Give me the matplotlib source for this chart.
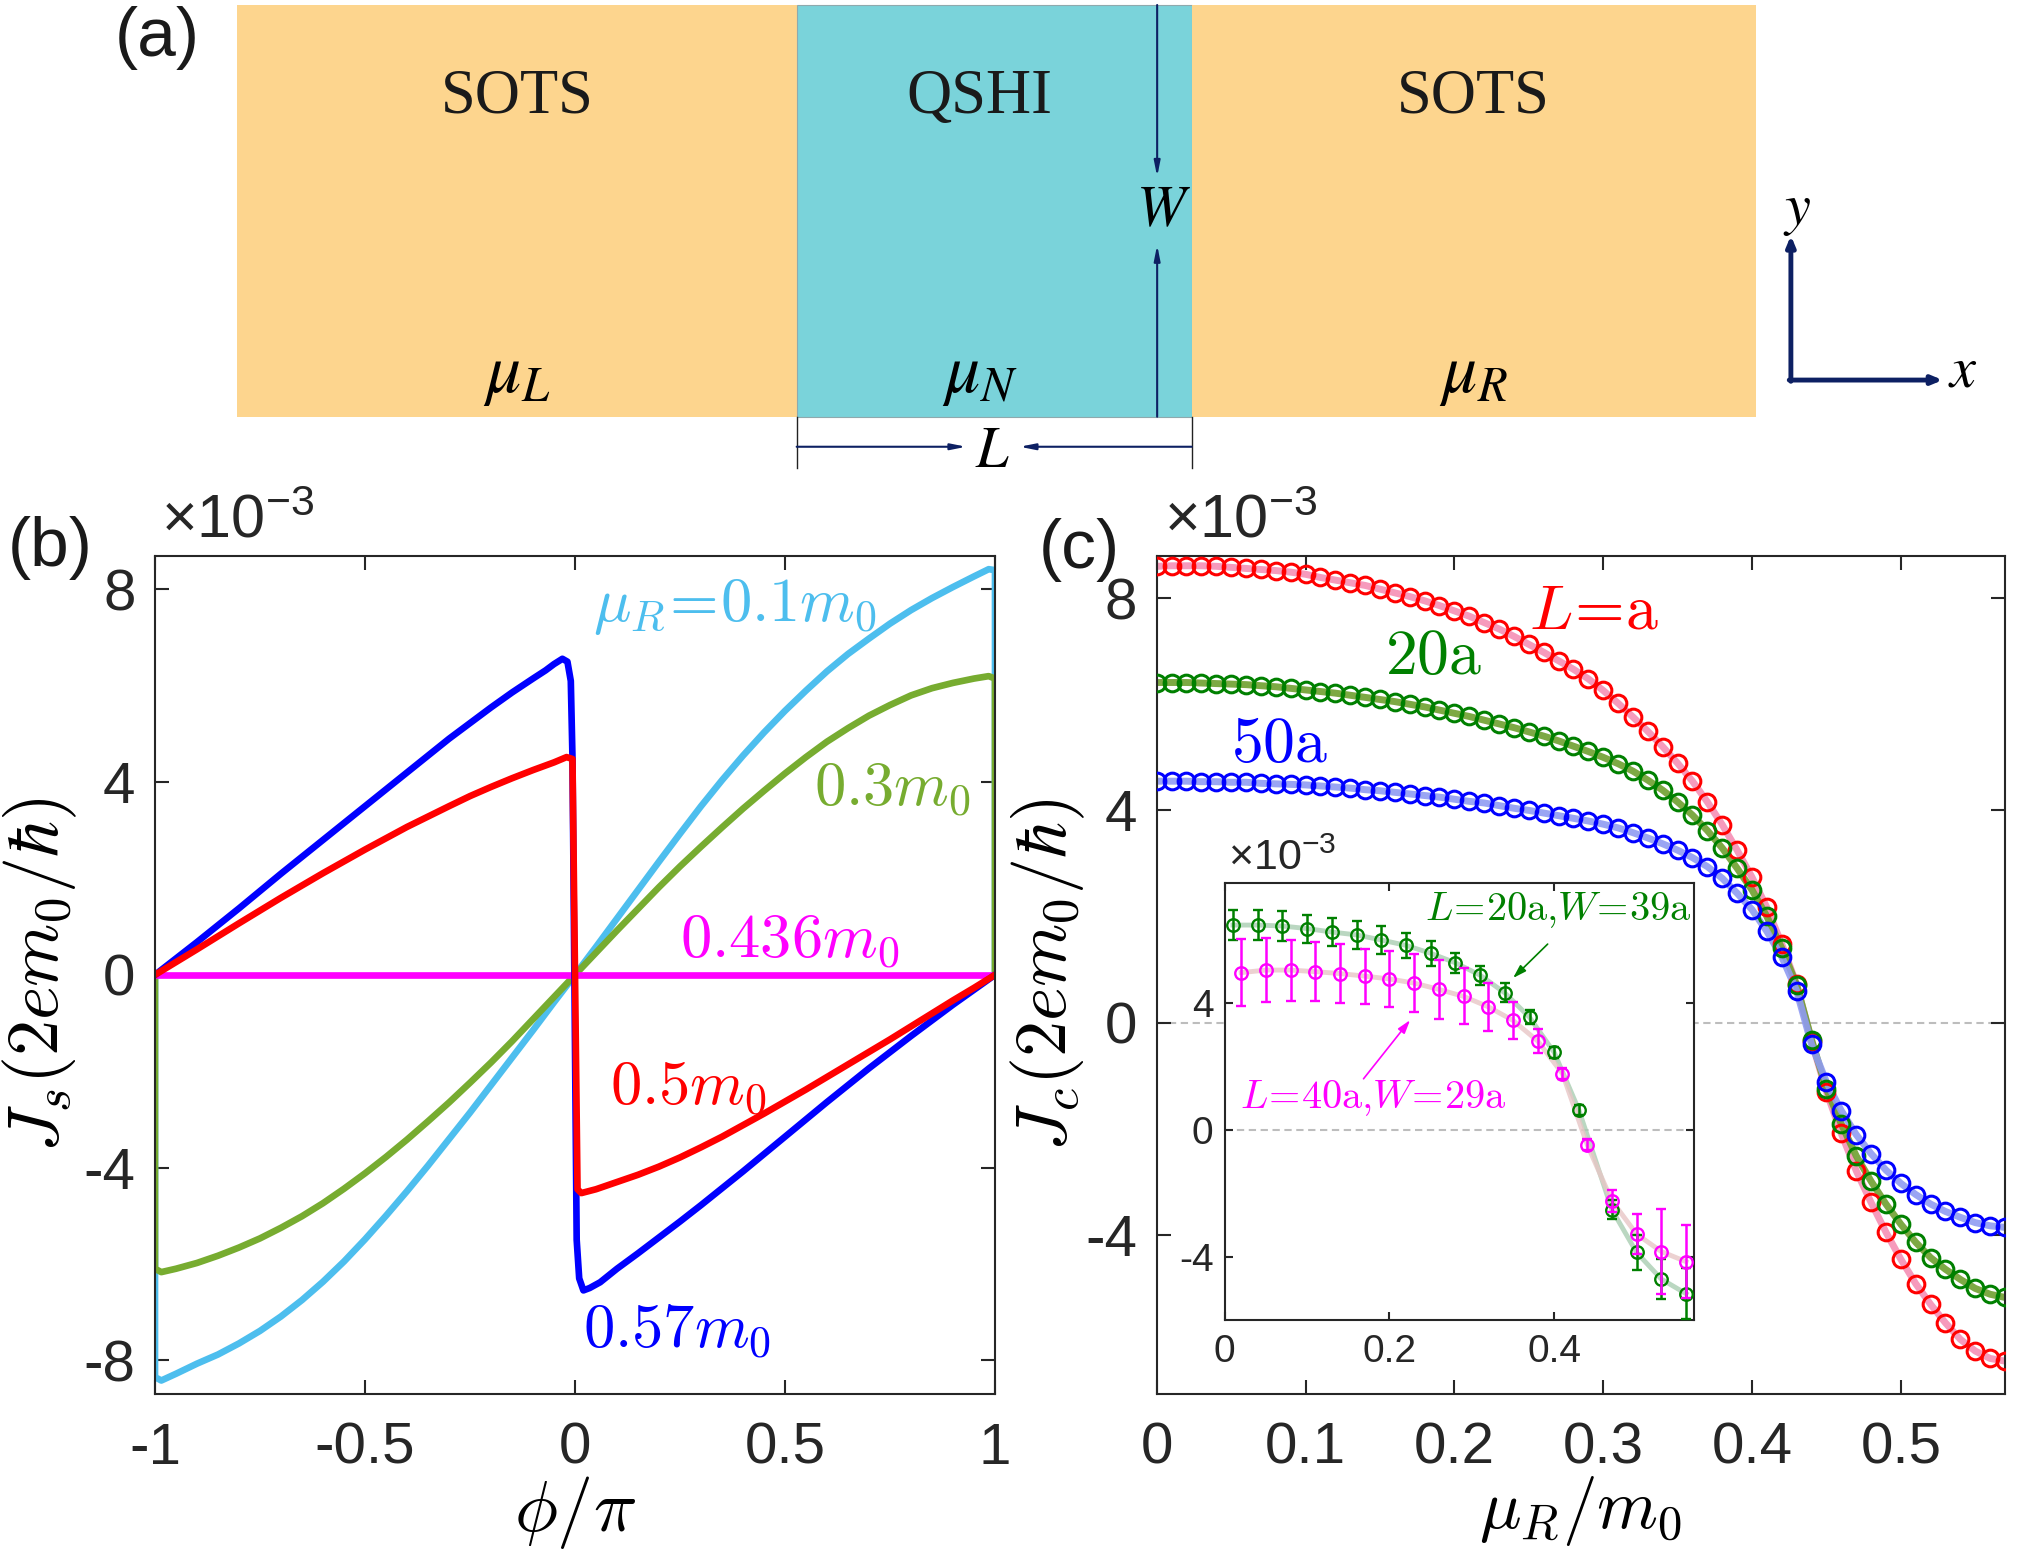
import numpy as np
import matplotlib.pyplot as plt
from matplotlib.patches import Rectangle

plt.rcParams['font.family'] = 'Liberation Sans'
plt.rcParams['mathtext.fontset'] = 'cm'
plt.rcParams['mathtext.rm'] = 'Liberation Sans'
plt.rcParams['mathtext.it'] = 'Liberation Sans:italic'
plt.rcParams['mathtext.bf'] = 'Liberation Sans:bold'

# ---- panel (a): device sketch ----
region_names = ['SOTS', 'QSHI', 'SOTS']
region_mu = [r'$\mu_L$', r'$\mu_N$', r'$\mu_R$']
region_widths = [1.36, 0.96, 1.37]
region_colors = ['#FDD58E', '#7AD3DA', '#FDD58E']

# ---- panel (b): J_s vs phi/pi (units 1e-3) ----
phi_01 = [-1, -1, -0.985, -0.95, -0.9, -0.85, -0.8, -0.75, -0.7, -0.65, -0.6, -0.55,
          -0.5, -0.45, -0.4, -0.35, -0.3, -0.25, -0.2, -0.15, -0.1, -0.05, 0,
          0.05, 0.1, 0.15, 0.2, 0.25, 0.3, 0.35, 0.4, 0.45, 0.5, 0.55, 0.6, 0.65,
          0.7, 0.75, 0.8, 0.85, 0.9, 0.95, 0.985, 1, 1]
js_01 = [0, -8.35, -8.42, -8.28, -8.07, -7.88, -7.65, -7.39, -7.09, -6.75, -6.37, -5.95,
         -5.49, -5.0, -4.49, -3.96, -3.41, -2.86, -2.29, -1.72, -1.15, -0.57, 0,
         0.58, 1.17, 1.76, 2.35, 2.93, 3.5, 4.04, 4.55, 5.03, 5.48, 5.9, 6.3, 6.66,
         6.98, 7.29, 7.57, 7.82, 8.05, 8.27, 8.42, 8.4, 0]
phi_03 = [-1, -1, -0.985, -0.95, -0.9, -0.85, -0.8, -0.75, -0.7, -0.65, -0.6, -0.55,
          -0.5, -0.45, -0.4, -0.35, -0.3, -0.25, -0.2, -0.15, -0.1, -0.05, 0,
          0.05, 0.1, 0.15, 0.2, 0.25, 0.3, 0.35, 0.4, 0.45, 0.5, 0.55, 0.6, 0.65,
          0.7, 0.75, 0.8, 0.85, 0.9, 0.95, 0.985, 1, 1]
js_03 = [0, -6.1, -6.17, -6.1, -5.98, -5.83, -5.66, -5.47, -5.25, -5.01, -4.74, -4.44,
         -4.12, -3.78, -3.42, -3.04, -2.65, -2.24, -1.82, -1.38, -0.92, -0.46, 0,
         0.46, 0.92, 1.37, 1.82, 2.25, 2.66, 3.06, 3.45, 3.82, 4.18, 4.52, 4.84, 5.12,
         5.38, 5.6, 5.8, 5.95, 6.06, 6.15, 6.2, 6.15, 0]
phi_0436 = [-1, 1]
js_0436 = [0, 0]
phi_05 = [-1, -0.9, -0.8, -0.7, -0.6, -0.5, -0.4, -0.3, -0.25, -0.2, -0.15, -0.1,
          -0.05, -0.02, -0.006, 0.006, 0.015, 0.05, 0.1, 0.15, 0.2, 0.25, 0.3, 0.35,
          0.4, 0.45, 0.5, 0.55, 0.6, 0.65, 0.7, 0.75, 0.8, 0.85, 0.9, 0.95, 1]
js_05 = [0, 0.53, 1.07, 1.6, 2.11, 2.6, 3.07, 3.5, 3.71, 3.9, 4.08, 4.25,
         4.41, 4.52, 4.48, -4.45, -4.53, -4.45, -4.3, -4.15, -3.98, -3.79, -3.58, -3.36,
         -3.12, -2.88, -2.63, -2.38, -2.12, -1.86, -1.6, -1.34, -1.07, -0.8, -0.53, -0.27, 0]
phi_057 = [-1, -0.9, -0.8, -0.7, -0.6, -0.5, -0.4, -0.3, -0.2, -0.15, -0.1, -0.07,
           -0.05, -0.03, -0.018, -0.01, -0.006, 0.004, 0.01, 0.02, 0.035, 0.06, 0.1,
           0.15, 0.2, 0.25, 0.3, 0.4, 0.5, 0.6, 0.7, 0.8, 0.9, 1]
js_057 = [0, 0.68, 1.38, 2.1, 2.8, 3.5, 4.2, 4.9, 5.55, 5.86, 6.15, 6.32,
          6.45, 6.56, 6.5, 6.1, 4.5, -5.5, -6.3, -6.55, -6.5, -6.38, -6.1,
          -5.78, -5.45, -5.12, -4.78, -4.08, -3.36, -2.64, -1.94, -1.27, -0.62, 0]

# ---- panel (c): J_c vs mu_R/m0 (units 1e-3) ----
mu_r = [0.00, 0.01, 0.02, 0.03, 0.04, 0.05, 0.06, 0.07, 0.08, 0.09,
        0.10, 0.11, 0.12, 0.13, 0.14, 0.15, 0.16, 0.17, 0.18, 0.19,
        0.20, 0.21, 0.22, 0.23, 0.24, 0.25, 0.26, 0.27, 0.28, 0.29,
        0.30, 0.31, 0.32, 0.33, 0.34, 0.35, 0.36, 0.37, 0.38, 0.39,
        0.40, 0.41, 0.42, 0.43, 0.44, 0.45, 0.46, 0.47, 0.48, 0.49,
        0.50, 0.51, 0.52, 0.53, 0.54, 0.55, 0.56, 0.57]
jc_L1 = [8.60, 8.61, 8.61, 8.61, 8.60, 8.58, 8.56, 8.54, 8.52, 8.49,
         8.45, 8.39, 8.34, 8.29, 8.24, 8.17, 8.10, 8.03, 7.95, 7.86,
         7.76, 7.66, 7.54, 7.42, 7.28, 7.13, 6.98, 6.82, 6.66, 6.48,
         6.26, 6.02, 5.76, 5.49, 5.20, 4.89, 4.55, 4.16, 3.73, 3.25,
         2.74, 2.17, 1.48, 0.72, -0.35, -1.30, -2.09, -2.79, -3.39, -3.95,
         -4.46, -4.92, -5.31, -5.66, -5.97, -6.19, -6.33, -6.38]
jc_L20 = [6.41, 6.41, 6.41, 6.40, 6.39, 6.38, 6.37, 6.35, 6.33, 6.30,
          6.27, 6.24, 6.21, 6.17, 6.13, 6.09, 6.05, 6.00, 5.95, 5.89,
          5.83, 5.77, 5.70, 5.63, 5.56, 5.48, 5.40, 5.31, 5.21, 5.11,
          5.00, 4.88, 4.74, 4.57, 4.38, 4.16, 3.91, 3.62, 3.29, 2.91,
          2.50, 2.00, 1.40, 0.71, -0.32, -1.25, -1.91, -2.51, -2.99, -3.42,
          -3.80, -4.14, -4.43, -4.65, -4.84, -5.01, -5.12, -5.18]
jc_L50 = [4.55, 4.55, 4.55, 4.54, 4.54, 4.53, 4.53, 4.51, 4.50, 4.49,
          4.48, 4.46, 4.44, 4.42, 4.39, 4.37, 4.34, 4.31, 4.28, 4.25,
          4.21, 4.17, 4.14, 4.09, 4.04, 4.00, 3.95, 3.90, 3.85, 3.80,
          3.74, 3.67, 3.58, 3.48, 3.37, 3.25, 3.11, 2.94, 2.72, 2.44,
          2.13, 1.72, 1.24, 0.60, -0.41, -1.12, -1.66, -2.11, -2.47, -2.78,
          -3.03, -3.24, -3.42, -3.56, -3.67, -3.77, -3.83, -3.86]

# inset: L=20a, W=39a and L=40a, W=29a with error bars
ins_mu_g = [0.01, 0.04, 0.07, 0.10, 0.13, 0.16, 0.19, 0.22, 0.25, 0.28,
            0.31, 0.34, 0.37, 0.40, 0.43, 0.47, 0.50, 0.53, 0.56]
ins_jc_g = [6.46, 6.46, 6.43, 6.35, 6.24, 6.15, 5.99, 5.82, 5.57, 5.27,
            4.88, 4.32, 3.55, 2.44, 0.62, -2.52, -3.87, -4.71, -5.17]
ins_err_g = [0.46, 0.46, 0.47, 0.44, 0.44, 0.44, 0.43, 0.40, 0.39, 0.32,
             0.30, 0.30, 0.22, 0.17, 0.15, 0.30, 0.54, 0.64, 0.80]
ins_mu_m = [0.02, 0.05, 0.08, 0.11, 0.14, 0.17, 0.20, 0.23, 0.26, 0.29,
            0.32, 0.35, 0.38, 0.41, 0.44, 0.47, 0.50, 0.53, 0.56]
ins_jc_m = [4.96, 5.04, 5.04, 4.99, 4.93, 4.85, 4.76, 4.63, 4.43, 4.21,
            3.88, 3.45, 2.80, 1.77, -0.47, -2.24, -3.29, -3.84, -4.16]
ins_err_m = [1.06, 1.02, 0.96, 0.93, 0.92, 0.87, 0.88, 0.91, 0.92, 0.88,
             0.75, 0.58, 0.37, 0.17, 0.17, 0.35, 0.62, 1.33, 1.16]

W, H = 2017, 1549
navy = '#0D2063'
axcol = '#262626'


def fbox(x0, y0, x1, y1):
    # pixel box (top-left origin) -> figure fraction rect
    return [x0 / W, 1 - y1 / H, (x1 - x0) / W, (y1 - y0) / H]


def style_axes(ax, size, length=10, padx=20, pady=14):
    for s in ax.spines.values():
        s.set_linewidth(1.5)
        s.set_color(axcol)
    ax.tick_params(direction='in', length=length, width=1.5, top=True, right=True,
                   labelsize=size, colors=axcol)
    ax.tick_params(axis='x', pad=padx)
    ax.tick_params(axis='y', pad=pady)


fig = plt.figure(figsize=(W / 100, H / 100), dpi=100)

# ================= (a) =================
ax_a = fig.add_axes(fbox(237, 5, 1755.5, 416.7))
ax_a.set_xlim(0, sum(region_widths))
ax_a.set_ylim(0, 1)
ax_a.axis('off')
edges = np.concatenate([[0], np.cumsum(region_widths)])
for i, name in enumerate(region_names):
    x0, w = edges[i], region_widths[i]
    ec = '#8FA9AD' if name == 'QSHI' else 'none'
    ax_a.add_patch(Rectangle((x0, 0), w, 1, fc=region_colors[i], ec=ec, lw=0.8,
                             clip_on=False))
    dx = -0.035 if name == 'QSHI' else 0
    ax_a.text(x0 + w / 2 + dx, 0.775, name, fontsize=45, family='Liberation Serif',
              ha='center', va='center', color='#1a1a1a')
    ax_a.text(x0 + w / 2 + dx, 0.10, region_mu[i], fontsize=50, math_fontfamily='stix',
              ha='center', va='center', color='black')

qs_l, qs_r = edges[1], edges[2]
xw = qs_r - 0.084
arr = dict(arrowstyle='-|>,head_length=0.9,head_width=0.18', color=navy, lw=1.5,
           shrinkA=0, shrinkB=0)
ax_a.annotate('', xy=(xw, 0.583), xytext=(xw, 1.0), arrowprops=arr)
ax_a.annotate('', xy=(xw, 0.417), xytext=(xw, 0.0), arrowprops=arr)
ax_a.text(xw + 0.015, 0.5, r'$W$', fontsize=42, math_fontfamily='stix',
          ha='center', va='center')

# L dimension
for xe in (qs_l, qs_r):
    ax_a.plot([xe, xe], [0, -0.125], color='#222222', lw=1.0, clip_on=False)
ax_a.annotate('', xy=(1.772, -0.073), xytext=(qs_l, -0.073), arrowprops=arr,
              annotation_clip=False)
ax_a.annotate('', xy=(1.902, -0.073), xytext=(qs_r, -0.073), arrowprops=arr,
              annotation_clip=False)
ax_a.text(1.837, -0.085, r'$L$', fontsize=42, math_fontfamily='stix',
          ha='center', va='center')

# coordinate axes
arr2 = dict(arrowstyle='-|>,head_length=0.6,head_width=0.25', color=navy, lw=3.5,
            shrinkA=0, shrinkB=0)
ax_a.annotate('', xy=(3.776, 0.44), xytext=(3.776, 0.086), arrowprops=arr2,
              annotation_clip=False)
ax_a.annotate('', xy=(4.145, 0.089), xytext=(3.772, 0.089), arrowprops=arr2,
              annotation_clip=False)
ax_a.text(3.792, 0.50, r'$y$', fontsize=42, math_fontfamily='stix',
          ha='center', va='center')
ax_a.text(4.195, 0.11, r'$x$', fontsize=42, math_fontfamily='stix',
          ha='center', va='center')

# ================= (b) =================
ax_b = fig.add_axes(fbox(155, 555.7, 995, 1394))
lw_b = 4.8
ax_b.plot(phi_01, js_01, color='#4DBEEE', lw=lw_b, solid_joinstyle='round')
ax_b.plot(phi_03, js_03, color='#77AC30', lw=lw_b, solid_joinstyle='round')
ax_b.plot(phi_0436, js_0436, color='#FF00FF', lw=lw_b)
ax_b.plot(phi_057, js_057, color='#0000FF', lw=lw_b, solid_joinstyle='round')
ax_b.plot(phi_05, js_05, color='#FF0000', lw=lw_b, solid_joinstyle='round')
ax_b.set_xlim(-1, 1)
ax_b.set_ylim(-8.7, 8.7)
ax_b.set_xticks([-1, -0.5, 0, 0.5, 1])
ax_b.set_xticklabels(['-1', '-0.5', '0', '0.5', '1'])
ax_b.set_yticks([-8, -4, 0, 4, 8])
ax_b.set_yticklabels(['-8', '-4', '0', '4', '8'])
style_axes(ax_b, 42)
ax_b.set_xlabel(r'$\phi/\pi$', fontsize=52)
ax_b.set_ylabel(r'$J_s(2em_0/\hbar)$', fontsize=52)
ax_b.xaxis.set_label_coords(0.5, -0.095)
ax_b.yaxis.set_label_coords(-0.09, 0.5)

lab = dict(fontsize=45, ha='left', va='baseline')
ax_b.text(0.043, 7.35, r'$\mu_R\!=\!0.1m_0$', color='#4DBEEE', **lab)
ax_b.text(0.57, 3.52, r'$0.3m_0$', color='#77AC30', **lab)
ax_b.text(0.249, 0.37, r'$0.436m_0$', color='#FF00FF', **lab)
ax_b.text(0.0825, -2.67, r'$0.5m_0$', color='#FF0000', **lab)
ax_b.text(0.019, -7.72, r'$0.57m_0$', color='#0000FF', **lab)

# ================= (c) =================
ax_c = fig.add_axes(fbox(1156.7, 555.7, 2005, 1394))
ax_c.axhline(0, color='#BDBDBD', lw=1.5, dashes=(3.5, 2.2), zorder=0)
series = [(jc_L1, '#FF0000', '#F58FB5'),
          (jc_L20, '#008000', '#6FA030'),
          (jc_L50, '#0000FF', '#8F9BF2')]
for vals, mc, bc in series:
    ax_c.plot(mu_r, vals, color=bc, lw=5.0, alpha=0.9, zorder=2)
    ax_c.plot(mu_r, vals, ls='none', marker='o', ms=12, mfc='none', mec=mc,
              mew=2.2, zorder=3)
ax_c.set_xlim(0, 0.57)
ax_c.set_ylim(-7.0, 8.8)
ax_c.set_xticks([0, 0.1, 0.2, 0.3, 0.4, 0.5])
ax_c.set_xticklabels(['0', '0.1', '0.2', '0.3', '0.4', '0.5'])
ax_c.set_yticks([-4, 0, 4, 8])
ax_c.set_yticklabels(['-4', '0', '4', '8'])
style_axes(ax_c, 42)
ax_c.set_xlabel(r'$\mu_R/m_0$', fontsize=50)
ax_c.set_ylabel(r'$J_c(2em_0/\hbar)$', fontsize=52)
ax_c.xaxis.set_label_coords(0.5, -0.095)
ax_c.yaxis.set_label_coords(-0.082, 0.5)
labc = dict(fontsize=46, ha='center', va='center')
ax_c.text(0.2937, 7.74, r'$L\!=\!\mathrm{a}$', color='#FF0000', **labc)
ax_c.text(0.186, 6.90, r'$\mathrm{20a}$', color='#008000', **labc)
ax_c.text(0.0826, 5.24, r'$\mathrm{50a}$', color='#0000FF', **labc)

# inset
ax_i = fig.add_axes(fbox(1224.7, 882.6, 1694.3, 1320))
ax_i.set_facecolor('white')
ax_i.axhline(0, color='#BDBDBD', lw=1.5, dashes=(3.5, 2.2), zorder=0)
ax_i.plot(ins_mu_g, ins_jc_g, color='#A9CDB2', lw=3.5, alpha=0.8, zorder=1)
ax_i.plot(ins_mu_m, ins_jc_m, color='#E8C6C6', lw=3.5, alpha=0.8, zorder=1)
ax_i.errorbar(ins_mu_g, ins_jc_g, yerr=ins_err_g, fmt='o', ms=9, mfc='none',
              mec='#008000', mew=1.7, ecolor='#008000', elinewidth=1.8,
              capsize=3.3, capthick=1.8, zorder=3)
ax_i.errorbar(ins_mu_m, ins_jc_m, yerr=ins_err_m, fmt='o', ms=9, mfc='none',
              mec='#FF00FF', mew=1.7, ecolor='#FF00FF', elinewidth=1.8,
              capsize=3.3, capthick=1.8, zorder=4)
ax_i.set_xlim(0, 0.57)
ax_i.set_ylim(-6.0, 7.8)
ax_i.set_xticks([0, 0.2, 0.4])
ax_i.set_xticklabels(['0', '0.2', '0.4'])
ax_i.set_yticks([-4, 0, 4])
ax_i.set_yticklabels(['-4', '0', '4'])
style_axes(ax_i, 28, length=6, padx=10, pady=8)
ax_i.text(0.405, 6.92, r'$L\!=\!\mathrm{20a}{,}W\!=\!\mathrm{39a}$', color='#008000',
          fontsize=29, ha='center', va='center')
ax_i.text(0.18, 1.0, r'$L\!=\!\mathrm{40a}{,}W\!=\!\mathrm{29a}$', color='#FF00FF',
          fontsize=29, ha='center', va='center')
ax_i.annotate('', xy=(0.350, 4.79), xytext=(0.392, 5.86),
              arrowprops=dict(arrowstyle='-|>,head_length=0.8,head_width=0.25',
                              color='#008000', lw=1.2, shrinkA=0, shrinkB=0))
ax_i.annotate('', xy=(0.225, 3.46), xytext=(0.1685, 1.61),
              arrowprops=dict(arrowstyle='-|>,head_length=0.8,head_width=0.25',
                              color='#FF00FF', lw=1.2, shrinkA=0, shrinkB=0))

# exponent labels and panel tags
exp_kw = dict(math_fontfamily='custom', color=axcol, ha='left', va='baseline')
fig.text(161 / W, 1 - 537.7 / H, r'$\times10^{-3}$', fontsize=44, **exp_kw)
fig.text(1164 / W, 1 - 537.7 / H, r'$\times10^{-3}$', fontsize=44, **exp_kw)
fig.text(1228 / W, 1 - 870.3 / H, r'$\times10^{-3}$', fontsize=31, **exp_kw)

fig.text(157 / W, 1 - 38 / H, '(a)', fontsize=50, ha='center', va='center', color='#1a1a1a')
fig.text(50 / W, 1 - 548 / H, '(b)', fontsize=50, ha='center', va='center', color='#1a1a1a')
fig.text(1079 / W, 1 - 550 / H, '(c)', fontsize=50, ha='center', va='center', color='#1a1a1a')

fig.savefig('out.png', dpi=100)
